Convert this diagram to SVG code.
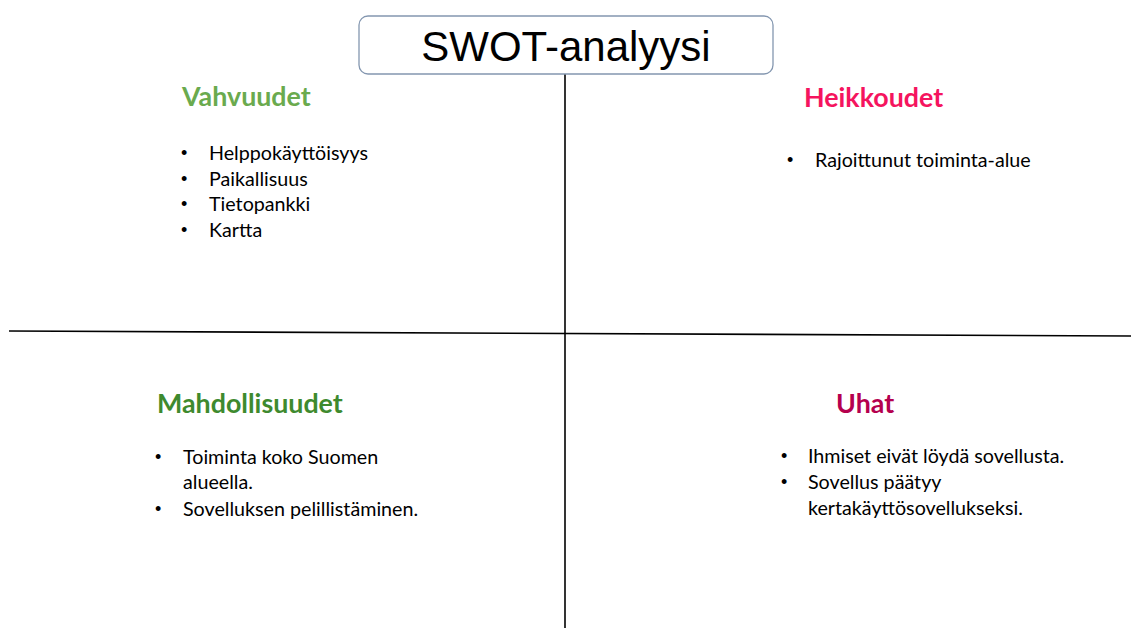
<svg xmlns="http://www.w3.org/2000/svg" width="1131" height="628" viewBox="0 0 1131 628">
<style>
.h{font-family:Lato,"Open Sans","Liberation Sans",sans-serif;font-weight:bold;font-size:26.8px}
.b{font-family:Lato,"Open Sans","Liberation Sans",sans-serif;font-size:19.7px;fill:#000}
.d{font-family:"Liberation Sans",sans-serif;font-size:18px;fill:#000}
.line{stroke:#000;stroke-width:1.6;fill:none}
</style>
<rect width="1131" height="628" fill="#fff"/>
<g id="connectors">
<line class="line" x1="565" y1="74" x2="565" y2="628"/>
<line class="line" x1="9" y1="331" x2="1131" y2="336"/>
</g>
<g id="title">
<rect x="359" y="16" width="414" height="58" rx="9" fill="#fff" stroke="#8497b0" stroke-width="1.3"/>
<text x="566" y="61" text-anchor="middle" font-family="'Liberation Sans',Arial,sans-serif" font-size="42">SWOT-analyysi</text>
</g>
<g id="vahvuudet">
<text class="h" x="182" y="106" fill="#6aaa4e">Vahvuudet</text>
<text class="d" x="181" y="159">•</text><text class="b" x="209" y="160">Helppokäyttöisyys</text>
<text class="d" x="181" y="185">•</text><text class="b" x="209" y="186">Paikallisuus</text>
<text class="d" x="181" y="210">•</text><text class="b" x="209" y="211">Tietopankki</text>
<text class="d" x="181" y="236">•</text><text class="b" x="209" y="237">Kartta</text>
</g>
<g id="heikkoudet">
<text class="h" x="804" y="107" fill="#f5145e">Heikkoudet</text>
<text class="d" x="787" y="166">•</text><text class="b" x="815" y="167">Rajoittunut toiminta-alue</text>
</g>
<g id="mahdollisuudet">
<text class="h" x="157" y="413" fill="#3e8a2e">Mahdollisuudet</text>
<text class="d" x="155" y="463">•</text><text class="b" x="183" y="464">Toiminta koko Suomen</text>
<text class="b" x="183" y="489">alueella.</text>
<text class="d" x="155" y="515">•</text><text class="b" x="183" y="516">Sovelluksen pelillistäminen.</text>
</g>
<g id="uhat">
<text class="h" x="836" y="413" fill="#b5004e">Uhat</text>
<text class="d" x="781" y="462">•</text><text class="b" x="808" y="463">Ihmiset eivät löydä sovellusta.</text>
<text class="d" x="781" y="488">•</text><text class="b" x="808" y="489">Sovellus päätyy</text>
<text class="b" x="808" y="515">kertakäyttösovellukseksi.</text>
</g>
</svg>
